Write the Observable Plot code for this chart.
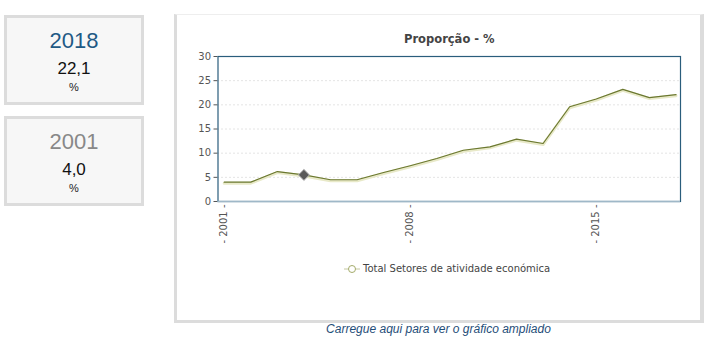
<!DOCTYPE html>
<html><head><meta charset="utf-8">
<script src="https://cdn.jsdelivr.net/npm/d3@7"></script>
<script src="https://cdn.jsdelivr.net/npm/@observablehq/plot@0.6"></script>
<style>
body{margin:0;background:#fff;width:714px;height:357px;position:relative;overflow:hidden;font-family:"Liberation Sans",Arial,sans-serif}
.box{position:absolute;left:4px;width:134px;height:84px;background:#f7f7f7;border:3px solid #dcdcdc;text-align:center}
.yr{font-size:22px;margin-top:11px;line-height:24px}
.val{font-size:17px;color:#111;line-height:20px;margin-top:6px}
.unit{font-size:11px;color:#222;line-height:14px;margin-top:1px}
#panel{position:absolute;left:174px;top:14px;width:523px;height:305px;border:3px solid #dcdcdc;border-right-width:4px;border-top:1px solid #eee;background:#fff}
#title{position:absolute;left:404px;top:32px;font:bold 11.5px "DejaVu Sans",Verdana,sans-serif;color:#444}
#legend{position:absolute;left:344px;top:263px;font:10px "DejaVu Sans",Verdana,sans-serif;color:#444;display:flex;align-items:center}
#caption{position:absolute;left:174px;width:529px;top:322px;text-align:center;font:italic 12px "Liberation Sans",Arial,sans-serif;color:#1f4e79}
#chart{position:absolute;left:175px;top:20px}
</style></head><body>
<div class="box" style="top:15px"><div class="yr" style="color:#1f5a85">2018</div><div class="val">22,1</div><div class="unit">%</div></div>
<div class="box" style="top:116px"><div class="yr" style="color:#888">2001</div><div class="val">4,0</div><div class="unit">%</div></div>
<div id="panel"></div>
<div id="title">Proporção - %</div>
<div id="chart"></div>
<div id="legend"><svg width="16" height="10"><line x1="0" y1="5" x2="16" y2="5" stroke="#c5c8a0" stroke-width="1"/><circle cx="8" cy="5" r="3.5" fill="#fff" stroke="#a4ab6a" stroke-width="1"/></svg><span style="margin-left:3px">Total Setores de atividade económica</span></div>
<div id="caption">Carregue aqui para ver o gráfico ampliado</div>
<script>
const years = [2001,2002,2003,2004,2005,2006,2007,2008,2009,2010,2011,2012,2013,2014,2015,2016,2017,2018];
const values = [4.0,4.0,6.2,5.5,4.5,4.5,6.0,7.4,8.9,10.6,11.3,12.9,12.0,19.6,21.2,23.2,21.5,22.1];
const xTicks = [2001,2008,2015];
const yTicks = [0,5,10,15,20,25,30];
const highlightYear = 2004;

const data = years.map((y,i)=>({year:y, value:values[i]}));
const hl = data.filter(d=>d.year===highlightYear);

const chart = Plot.plot({
  width: 520, height: 250,
  marginLeft: 42.5, marginRight: 15, marginTop: 36, marginBottom: 69,
  style: {fontFamily: '"DejaVu Sans",Verdana,sans-serif', fontSize: "10px", color: "#555", background: "transparent"},
  x: {type: "linear", domain: [2000.767, 2018.17], ticks: xTicks, tickFormat: d => "- " + d + " -", tickRotate: -90, tickSize: 0, tickPadding: 3, label: null},
  y: {domain: [0,30], ticks: yTicks, tickSize: 4, tickPadding: 3, label: null},
  marks: [
    Plot.gridY(yTicks.filter(t=>t>0 && t<30), {stroke: "#c8c8c8", strokeOpacity: 1, strokeDasharray: "1,3"}),
    Plot.line(data, {x: "year", y: "value", stroke: "#e8e9c8", strokeWidth: 3, dy: 1}),
    Plot.line(data, {x: "year", y: "value", stroke: "#6b7830", strokeWidth: 1.2}),
    Plot.dot(hl, {x: "year", y: "value", symbol: "diamond2", r: 5, fill: "#5a5a5a", stroke: "#bbb", strokeWidth: 1}),
    Plot.frame({stroke: "#2a5d7c", strokeWidth: 1.2}),
    Plot.ruleY([0], {stroke: "#9fb8c8", strokeWidth: 1.5})
  ]
});
document.getElementById("chart").appendChild(chart);
</script>
</body></html>
